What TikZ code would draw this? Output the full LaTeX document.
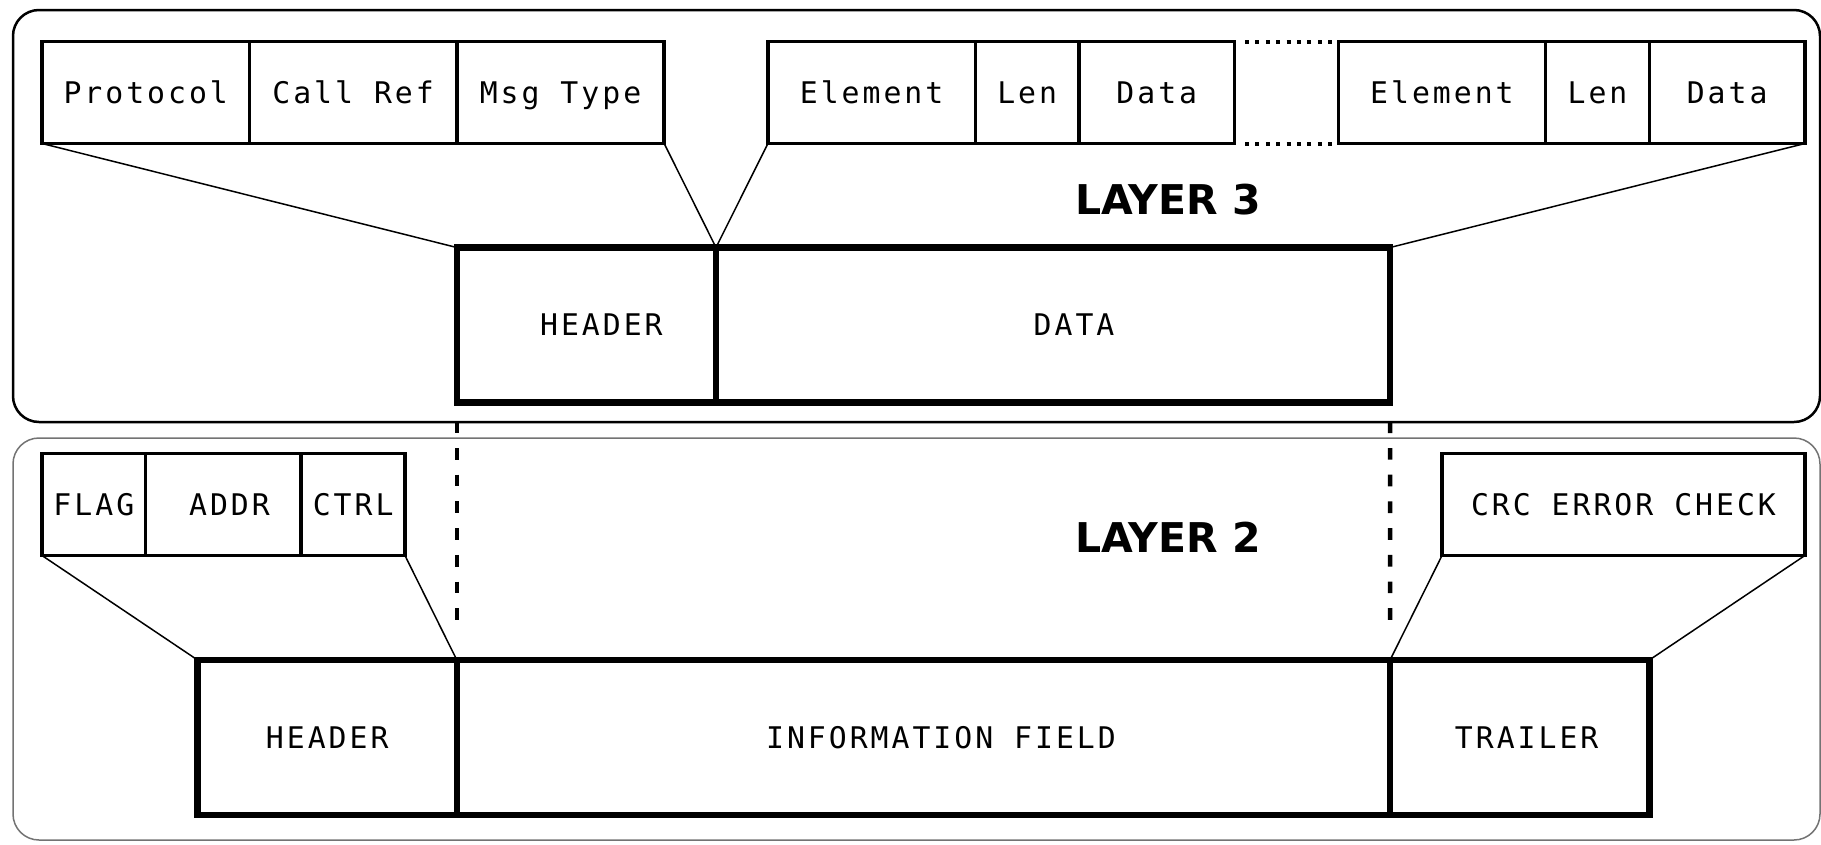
\documentclass[tikz,border=0pt]{standalone}
\usepackage{fontspec}
\newfontfamily\monof[LetterSpace=10]{DejaVu Sans Mono}
\newfontfamily\layerf{DejaVu Sans}
\begin{document}
\begin{tikzpicture}[x=1pt,y=-1pt,
  frameA/.style={draw=black, line width=2.5pt, rounded corners=26pt},
  frameB/.style={draw=black!55, line width=1.5pt, rounded corners=26pt},
  monotext/.style={font=\monof\fontsize{29.8}{34}\selectfont, text height=21.7pt, text depth=0pt},
  sbox/.style={draw, line width=3.5pt, inner sep=0pt, outer sep=0pt, monotext, minimum height=102pt},
  bbox/.style={draw, line width=6.5pt, inner sep=0pt, outer sep=0pt, monotext, minimum height=155pt},
  fan/.style={draw, line width=1.5pt},
  vdash/.style={draw, line width=4.5pt, dash pattern=on 11.7pt off 15pt, dash phase=1.7pt},
  dotline/.style={draw, line width=4pt, dash pattern=on 4pt off 6.4pt},
  layerlab/.style={font=\layerf\bfseries\fontsize{41}{48}\selectfont, inner sep=0pt}]
\useasboundingbox (0,0) rectangle (1821,844);
\clip (0,0) rectangle (1821,844);

% layer frames
\draw[frameA] (13,10) rectangle (1820,422);
\draw[frameB] (13,438) rectangle (1820,840);

% layer 3 fields
\node[sbox, minimum width=207.4pt] (proto) at (145.7,92.5) {Protocol};
\node[sbox, minimum width=207.4pt] (callref) at (353.1,92.5) {Call Ref};
\node[sbox, minimum width=207.4pt] (msgtype) at (560.5,92.5) {Msg Type};
\node[sbox, minimum width=207.4pt] (elemA) at (871.6,92.5) {Element};
\node[sbox, minimum width=103.7pt] (lenA) at (1027.15,92.5) {Len};
\node[sbox, minimum width=155.55pt] (dataA) at (1156.8,92.5) {Data};
\node[sbox, minimum width=207.4pt] (elemB) at (1441.95,92.5) {Element};
\node[sbox, minimum width=103.7pt] (lenB) at (1597.5,92.5) {Len};
\node[sbox, minimum width=155.55pt] (dataB) at (1727.1,92.5) {Data};

\draw[dotline, shorten <=10.5pt, shorten >=5pt] (dataA.north east) -- (elemB.north west);
\draw[dotline, shorten <=10.5pt, shorten >=5pt] (dataA.south east) -- (elemB.south west);

\node[layerlab] (lab3) at (1168,200) {LAYER 3};

% layer 3 packet
\node[bbox, minimum width=259.2pt, label={[xshift=15pt, monotext]center:HEADER}] (hdr3) at (586.4,325) {};
\node[bbox, minimum width=674.1pt, label={[xshift=21pt, monotext]center:DATA}] (data3) at (1053.05,325) {};

\draw[fan] (proto.south west) -- (hdr3.north west);
\draw[fan] (msgtype.south east) -- (hdr3.north east);
\draw[fan] (elemA.south west) -- (data3.north west);
\draw[fan] (dataB.south east) -- (data3.north east);

% layer 2 fields
\node[sbox, minimum width=103.7pt] (flag) at (93.85,504.5) {FLAG};
\node[sbox, minimum width=155.55pt, label={[xshift=6pt, monotext]center:ADDR}] (addr) at (223.5,504.5) {};
\node[sbox, minimum width=103.75pt] (ctrl) at (353.1,504.5) {CTRL};
\node[sbox, minimum width=362.9pt] (crc) at (1623.45,504.5) {CRC ERROR CHECK};

\node[layerlab] (lab2) at (1168,537.5) {LAYER 2};

% layer 2 frame
\node[bbox, minimum width=259.25pt] (hdr2) at (327.2,737.5) {HEADER};
\node[bbox, minimum width=933.3pt, label={[xshift=17.5pt, monotext]center:INFORMATION FIELD}] (info) at (923.45,737.5) {};
\node[bbox, minimum width=259.25pt, label={[xshift=7pt, monotext]center:TRAILER}] (trailer) at (1519.7,737.5) {};

\draw[fan] (flag.south west) -- (hdr2.north west);
\draw[fan] (ctrl.south east) -- (hdr2.north east);
\draw[fan] (crc.south west) -- (trailer.north west);
\draw[fan] (crc.south east) -- (trailer.north east);

% dashed guides
\draw[vdash, shorten <=20.5pt, shorten >=39pt] (hdr3.south west) -- (info.north west);
\draw[vdash, shorten <=20.5pt, shorten >=39pt] (data3.south east) -- (info.north east);
\end{tikzpicture}
\end{document}
